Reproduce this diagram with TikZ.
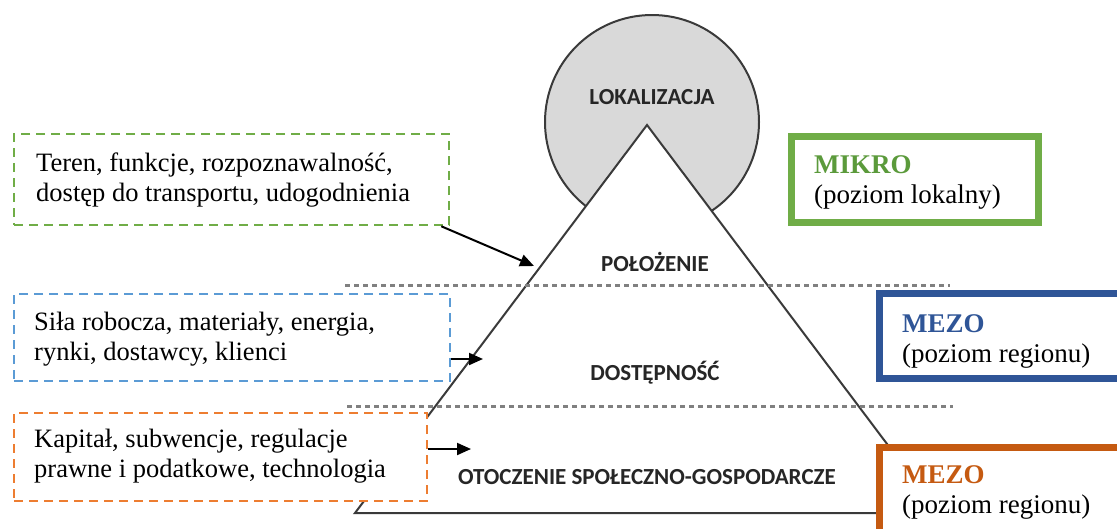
\documentclass[tikz,border=0pt]{standalone}
\usepackage{fontspec}
\setmainfont{Liberation Serif}
\newfontfamily\lblfont{Carlito}
\usetikzlibrary{arrows.meta}

\definecolor{grnline}{HTML}{70AD47}
\definecolor{grntext}{HTML}{5B9A3B}
\definecolor{bluline}{HTML}{5B9BD5}
\definecolor{bluframe}{HTML}{2F5597}
\definecolor{orgline}{HTML}{ED7D31}
\definecolor{orgframe}{HTML}{C55A11}
\definecolor{lokfill}{HTML}{D9D9D9}
\definecolor{edge}{HTML}{3A3A3A}
\definecolor{sep}{HTML}{808080}
\definecolor{lbl}{HTML}{262626}

\tikzset{
  dashbox/.style={draw, line width=2.5pt, dash pattern=on 9pt off 6pt, fill=white, inner sep=0pt},
  levelbox/.style={draw, line width=7pt, fill=white, inner sep=0pt},
  desc/.style={inner sep=0pt, anchor=base west, align=left, font=\fontsize{26.5}{30}\selectfont},
  lvl/.style={inner sep=0pt, anchor=base west, align=left, font=\fontsize{27}{30}\selectfont},
  tier/.style={inner sep=0pt, text=lbl, font=\lblfont\bfseries\fontsize{23}{26}\selectfont},
  sepline/.style={draw=sep, line width=3pt, dash pattern=on 5pt off 4pt},
  pointer/.style={draw=black, line width=2pt, -{Triangle[length=14pt,width=12pt]}},
}

\begin{document}
\begin{tikzpicture}[x=1pt,y=-1pt]
\useasboundingbox (0,0) rectangle (1117,528);
\begin{scope}
\clip (0,0) rectangle (1117,528);

% location disc behind the pyramid
\node[circle, draw=edge, line width=2pt, fill=lokfill, minimum size=214pt, inner sep=0pt] (disc) at (652,122) {};
\node[tier] (lokal) at (652,97) {LOKALIZACJA};

% pyramid
\coordinate (apex) at (647,125);
\coordinate (bl) at (355,513);
\coordinate (br) at (939,513);
\draw[draw=edge, line width=2pt, fill=white, line join=miter] (apex) -- (bl) -- (br) -- cycle;

% level separators
\coordinate (s1a) at (345,285);
\coordinate (s1b) at (950,285);
\coordinate (s2a) at (347,406);
\coordinate (s2b) at (953,406);
\draw[sepline] (s1a) -- (s1b);
\draw[sepline] (s2a) -- (s2b);

% tier labels
\node[tier] (polozenie) at (655,262) {POŁOŻENIE};
\node[tier] (dostep) at (655,373) {DOSTĘPNOŚĆ};
\node[tier] (otocz) at (647,477) {OTOCZENIE SPOŁECZNO-GOSPODARCZE};

% factor boxes on the left (text anchored at the baseline of its last line)
\node[dashbox, draw=grnline, minimum width=435pt, minimum height=91pt] (teren) at (231.5,179.5) {};
\node[desc] (terentxt) at (36,201) {Teren, funkcje, rozpoznawalność,\\dostęp do transportu, udogodnienia};

\node[dashbox, draw=bluline, minimum width=436pt, minimum height=87pt] (sila) at (232,337.5) {};
\node[desc] (silatxt) at (34,360) {Siła robocza, materiały, energia,\\rynki, dostawcy, klienci};

\node[dashbox, draw=orgline, minimum width=413pt, minimum height=88pt] (kapital) at (220.5,457) {};
\node[desc] (kapitaltxt) at (34,477) {Kapitał, subwencje, regulacje\\prawne i podatkowe, technologia};

% arrows towards the pyramid
\coordinate (tip1) at (534,266);
\coordinate (tip2) at (483,359);
\coordinate (tip3) at (471,449);
\draw[pointer] ([xshift=-9pt]teren.south east) -- (tip1);
\draw[pointer] (sila.east |- tip2) -- (tip2);
\draw[pointer] (kapital.east |- tip3) -- (tip3);

% level frames on the right
\node[levelbox, draw=grnline, minimum width=247pt, minimum height=86pt] (mikro) at (915,179.5) {};
\node[lvl] (mikrotxt) at (814,203) {\textcolor{grntext}{\textbf{MIKRO}}\\(poziom lokalny)};

\node[levelbox, draw=bluframe, minimum width=261pt, minimum height=85pt] (mezo1) at (1010,336) {};
\node[lvl] (mezo1txt) at (902,362) {\textcolor{bluframe}{\textbf{MEZO}}\\(poziom regionu)};

\node[levelbox, draw=orgframe, minimum width=261pt, minimum height=93pt] (mezo2) at (1010,494) {};
\node[lvl] (mezo2txt) at (902,513) {\textcolor{orgframe}{\textbf{MEZO}}\\(poziom regionu)};
\end{scope}
\end{tikzpicture}
\end{document}
